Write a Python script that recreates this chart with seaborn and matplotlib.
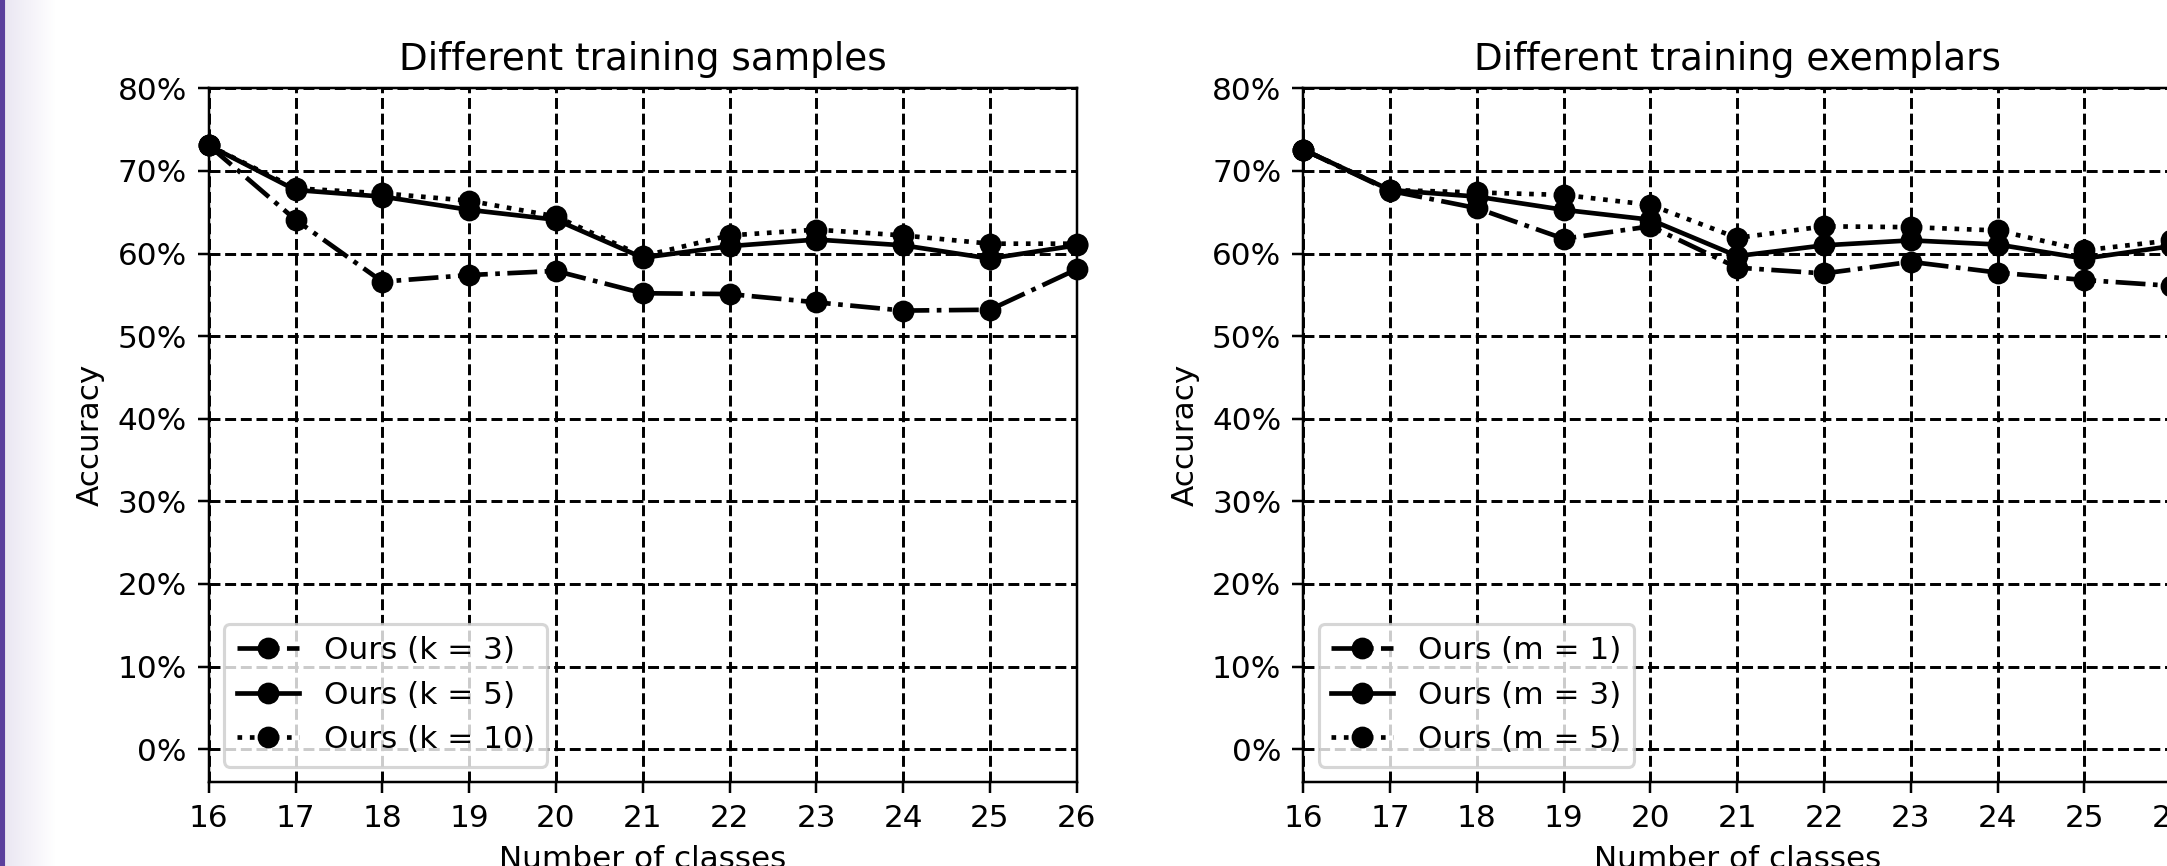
import numpy as np
import pandas as pd
import matplotlib
matplotlib.use("Agg")
import matplotlib.pyplot as plt
from matplotlib.ticker import PercentFormatter
from matplotlib.colors import LinearSegmentedColormap
import seaborn as sns

# ---- data ----
classes = [16, 17, 18, 19, 20, 21, 22, 23, 24, 25, 26]

k3 = [73.1, 64.1, 56.6, 57.4, 57.9, 55.2, 55.1, 54.1, 53.1, 53.2, 58.1]
k5 = [73.1, 67.7, 66.9, 65.3, 64.1, 59.5, 60.9, 61.7, 61.0, 59.4, 61.0]
k10 = [73.1, 67.9, 67.3, 66.4, 64.5, 59.7, 62.2, 62.9, 62.2, 61.2, 61.2]

m1 = [72.6, 67.6, 65.5, 61.8, 63.3, 58.3, 57.6, 59.0, 57.7, 56.8, 56.1]
m3 = [72.6, 67.7, 66.9, 65.3, 64.1, 59.7, 61.0, 61.6, 61.1, 59.4, 60.9]
m5 = [72.6, 67.7, 67.4, 67.1, 65.9, 61.9, 63.3, 63.2, 62.8, 60.4, 61.6]

left_labels = ["Ours (k = 3)", "Ours (k = 5)", "Ours (k = 10)"]
right_labels = ["Ours (m = 1)", "Ours (m = 3)", "Ours (m = 5)"]
titles = ["Different training samples", "Different training exemplars"]
yticks = [0, 10, 20, 30, 40, 50, 60, 70, 80]

styles = ["-.", "-", ":"]

W, H, DPI = 2167, 866, 224
fig = plt.figure(figsize=(W / DPI, H / DPI), dpi=DPI)

# left decorative strip (gradient + purple edge)
bg = fig.add_axes([0, 0, 55 / W, 1], zorder=-10)
grad = np.linspace(0, 1, 256).reshape(1, -1)
cmap = LinearSegmentedColormap.from_list("g", ["#e8e4f1", "#ffffff"])
bg.imshow(grad, aspect="auto", cmap=cmap, extent=[0, 1, 0, 1])
bg.axvspan(0, 2.5 / 55, color="#5b3f9d")
bg.set_xlim(0, 1)
bg.axis("off")

ax_w = 868 / W
ax_h = (782.2 - 88.4) / H
ax_y0 = (H - 782.2) / H
ax1 = fig.add_axes([208.7 / W, ax_y0, ax_w, ax_h])
ax2 = fig.add_axes([1303.2 / W, ax_y0, ax_w, ax_h])


def draw(ax, series, labels, title):
    for vals, lab, ls in zip(series, labels, styles):
        df = pd.DataFrame({"x": classes, "y": vals})
        sns.lineplot(data=df, x="x", y="y", ax=ax, color="black",
                     linestyle=ls, marker="o", markersize=6,
                     markeredgecolor="black", markeredgewidth=1,
                     linewidth=1.5, label=lab, clip_on=False)
    ax.set_xlim(16, 26)
    ax.set_ylim(-4, 80)
    ax.set_xticks(classes)
    ax.set_yticks(yticks)
    ax.yaxis.set_major_formatter(PercentFormatter(xmax=100, decimals=0))
    ax.grid(True, color="black", linestyle="--", linewidth=0.95)
    ax.set_axisbelow(True)
    ax.set_title(title, fontsize=12)
    ax.set_xlabel("Number of classes", fontsize=10)
    ax.set_ylabel("Accuracy", fontsize=10)
    ax.tick_params(labelsize=10)
    ax.legend(loc="lower left", fontsize=10)


draw(ax1, [k3, k5, k10], left_labels, titles[0])
draw(ax2, [m1, m3, m5], right_labels, titles[1])

fig.savefig("out.png", dpi=DPI)
